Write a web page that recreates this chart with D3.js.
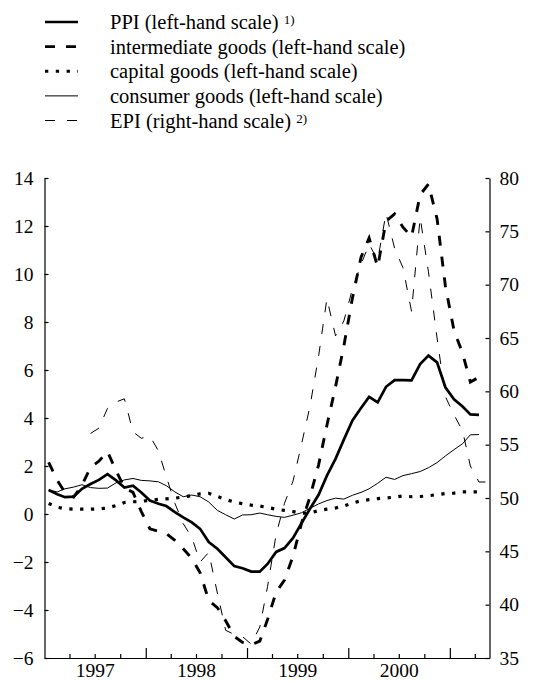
<!DOCTYPE html>
<html>
<head>
<meta charset="utf-8">
<script src="https://cdn.jsdelivr.net/npm/d3@7"></script>
<style>
  body { margin: 0; background: #fff; }
  svg { display: block; }
  text { font-family: "Liberation Serif", "Times New Roman", serif; fill: #000; }
</style>
</head>
<body>
<svg id="chart" width="536" height="681"></svg>
<script>
// Monthly series, January 1997 onwards (annual percentage changes / index levels)
const firstYear = 1997;

const ppi = [1.0, 0.82, 0.7, 0.72, 1.05, 1.25, 1.42, 1.66, 1.4, 1.1, 1.18, 0.9,
  0.56, 0.43, 0.33, 0.08, -0.14, -0.35, -0.62, -1.17, -1.45, -1.8, -2.17, -2.26,
  -2.4, -2.4, -2.08, -1.58, -1.42, -1.0, -0.39, 0.22, 0.8, 1.6, 2.3, 3.1,
  3.9, 4.42, 4.88, 4.65, 5.3, 5.58, 5.58, 5.57, 6.25, 6.6, 6.32, 5.28,
  4.78, 4.48, 4.15, 4.13];

const intermediate = [2.15, 1.4, 0.9, 0.7, 1.2, 1.95, 2.2, 2.6, 1.8, 1.1, 0.9, 0.1,
  -0.62, -0.72, -0.82, -1.1, -1.45, -1.85, -2.45, -3.6, -3.9, -4.45, -5.1, -5.35,
  -5.45, -5.3, -4.4, -3.25, -2.75, -1.75, -0.4, 0.72, 2.05, 3.7, 5.3, 7.0,
  9.0, 10.7, 11.5, 10.3, 12.2, 12.5, 11.95, 11.55, 13.3, 13.75, 12.3, 9.5,
  7.65, 6.7, 5.5, 5.7];

const capital = [0.44, 0.28, 0.22, 0.2, 0.2, 0.2, 0.21, 0.25, 0.35, 0.48, 0.51, 0.53,
  0.57, 0.61, 0.63, 0.66, 0.71, 0.77, 0.84, 0.86, 0.73, 0.6, 0.5, 0.43,
  0.37, 0.33, 0.27, 0.2, 0.15, 0.1, 0.03, 0.04, 0.14, 0.2, 0.25, 0.33,
  0.46, 0.55, 0.6, 0.64, 0.67, 0.7, 0.75, 0.72, 0.73, 0.76, 0.81, 0.85,
  0.87, 0.92, 0.92, 0.92];

const consumer = [1.0, 0.92, 1.05, 1.12, 1.22, 1.1, 1.07, 1.08, 1.3, 1.42, 1.48, 1.4,
  1.38, 1.34, 1.18, 0.92, 0.72, 0.79, 0.72, 0.5, 0.15, -0.03, -0.21, -0.04,
  -0.03, 0.04, -0.03, -0.1, -0.14, -0.05, 0.05, 0.24, 0.42, 0.56, 0.66, 0.62,
  0.78, 0.9, 1.05, 1.28, 1.53, 1.44, 1.6, 1.68, 1.77, 1.93, 2.14, 2.42,
  2.68, 2.93, 3.3, 3.31];

// EPI is available from June 1997 and one month longer than the PPI series
const epi = [null, null, null, null, null, 56.05, 56.55, 58.4, 59.0, 59.3, 56.2, 55.6,
  55.8, 54.4, 52.0, 49.5, 47.6, 46.3, 44.0, 44.9, 41.1, 37.6, 37.2, 37.0,
  36.3, 37.9, 41.7, 46.6, 49.5, 51.6, 55.0, 58.6, 63.3, 68.7, 65.2, 66.6,
  69.6, 71.9, 73.8, 72.3, 76.7, 73.4, 71.6, 67.5, 76.3, 71.2, 65.0, 59.5,
  57.8, 56.3, 53.0, 51.5, 51.5];

const leftTicks = [-6, -4, -2, 0, 2, 4, 6, 8, 10, 12, 14];
const rightTicks = [35, 40, 45, 50, 55, 60, 65, 70, 75, 80];
const yearLabels = [1997, 1998, 1999, 2000];

const legendLabels = [
  { text: "PPI (left-hand scale)", note: "1)" },
  { text: "intermediate goods (left-hand scale)", note: null },
  { text: "capital goods (left-hand scale)", note: null },
  { text: "consumer goods (left-hand scale)", note: null },
  { text: "EPI (right-hand scale)", note: "2)" }
];

// ---- styles for each series ----
const styles = [
  { width: 2.7, dash: null },          // PPI
  { width: 2.9, dash: "10,11" },       // intermediate goods
  { width: 3.2, dash: "3.3,7.5" },     // capital goods
  { width: 1.0, dash: null },          // consumer goods
  { width: 1.0, dash: "10,12" }        // EPI
];

const svg = d3.select("#chart");
const plotLeft = 44.5, plotRight = 489.5, plotTop = 178, plotBottom = 658;

const monthDate = i => new Date(firstYear, i, 16);
const x = d3.scaleTime()
  .domain([new Date(firstYear, 0, 1), new Date(2001, 4, 24)])
  .range([plotLeft, plotRight]);
const yL = d3.scaleLinear().domain([-6, 14]).range([plotBottom, plotTop]);
const yR = d3.scaleLinear().domain([35, 80]).range([plotBottom, plotTop]);

// ---- axes ----
const fontSize = 19.5;
const fontStack = '"Liberation Serif", "Times New Roman", serif';

const gLeft = svg.append("g").attr("transform", `translate(${plotLeft},0)`)
  .call(d3.axisLeft(yL).tickValues(leftTicks).tickSizeInner(-4).tickSizeOuter(0).tickPadding(11));
const gRight = svg.append("g").attr("transform", `translate(${plotRight},0)`)
  .call(d3.axisRight(yR).tickValues(rightTicks).tickSizeInner(-4).tickSizeOuter(0).tickPadding(10));

const quarterTicks = d3.timeMonth.every(3).range(new Date(firstYear, 3, 1), new Date(2001, 4, 2));
const gBottom = svg.append("g").attr("transform", `translate(0,${plotBottom})`)
  .call(d3.axisBottom(x).tickValues(quarterTicks).tickSizeInner(-4).tickSizeOuter(0).tickFormat(""));
gBottom.selectAll(".tick line")
  .attr("y2", d => d.getMonth() === 0 ? -10 : -4);

const gYears = svg.append("g").attr("transform", `translate(0,${plotBottom})`)
  .call(d3.axisBottom(x)
    .tickValues(yearLabels.map(yr => new Date(yr, 6, 1)))
    .tickSize(0).tickPadding(5)
    .tickFormat(d3.timeFormat("%Y")));
gYears.select(".domain").remove();

[gLeft, gRight, gBottom, gYears].forEach(g => {
  g.attr("font-family", fontStack);
  g.selectAll("text").style("font-size", fontSize + "px")
    .style("font-family", fontStack).attr("fill", "#000");
  g.selectAll("line").attr("stroke", "#000").attr("stroke-width", 1.2);
  g.selectAll(".domain").attr("stroke", "#000").attr("stroke-width", 1.2);
});

// ---- lines ----
const series = [
  { values: ppi, y: yL },
  { values: intermediate, y: yL },
  { values: capital, y: yL },
  { values: consumer, y: yL },
  { values: epi, y: yR }
];

const plot = svg.append("g");
series.forEach((s, k) => {
  const line = d3.line()
    .defined(d => d != null)
    .x((d, i) => x(monthDate(i)))
    .y(d => s.y(d));
  plot.append("path")
    .datum(s.values)
    .attr("d", line)
    .attr("fill", "none")
    .attr("stroke", "#000")
    .attr("stroke-width", styles[k].width)
    .attr("stroke-dasharray", styles[k].dash)
    .attr("stroke-linejoin", "miter");
});

// ---- legend ----
const legendRowY = d3.scaleLinear().domain([0, 4]).range([22, 120.5]);
const legend = svg.append("g");
legendLabels.forEach((item, k) => {
  const cy = legendRowY(k);
  legend.append("line")
    .attr("x1", 45).attr("x2", 78)
    .attr("y1", cy).attr("y2", cy)
    .attr("stroke", "#000")
    .attr("stroke-width", styles[k].width)
    .attr("stroke-dasharray", styles[k].dash);
  const t = legend.append("text")
    .attr("x", 110).attr("y", cy + 7)
    .style("font-family", fontStack)
    .style("font-size", "20.5px");
  t.append("tspan").text(item.text);
  if (item.note) {
    t.append("tspan").text(" ");
    t.append("tspan").text(item.note)
      .attr("dy", -5).style("font-size", "13px");
  }
});
</script>
</body>
</html>
